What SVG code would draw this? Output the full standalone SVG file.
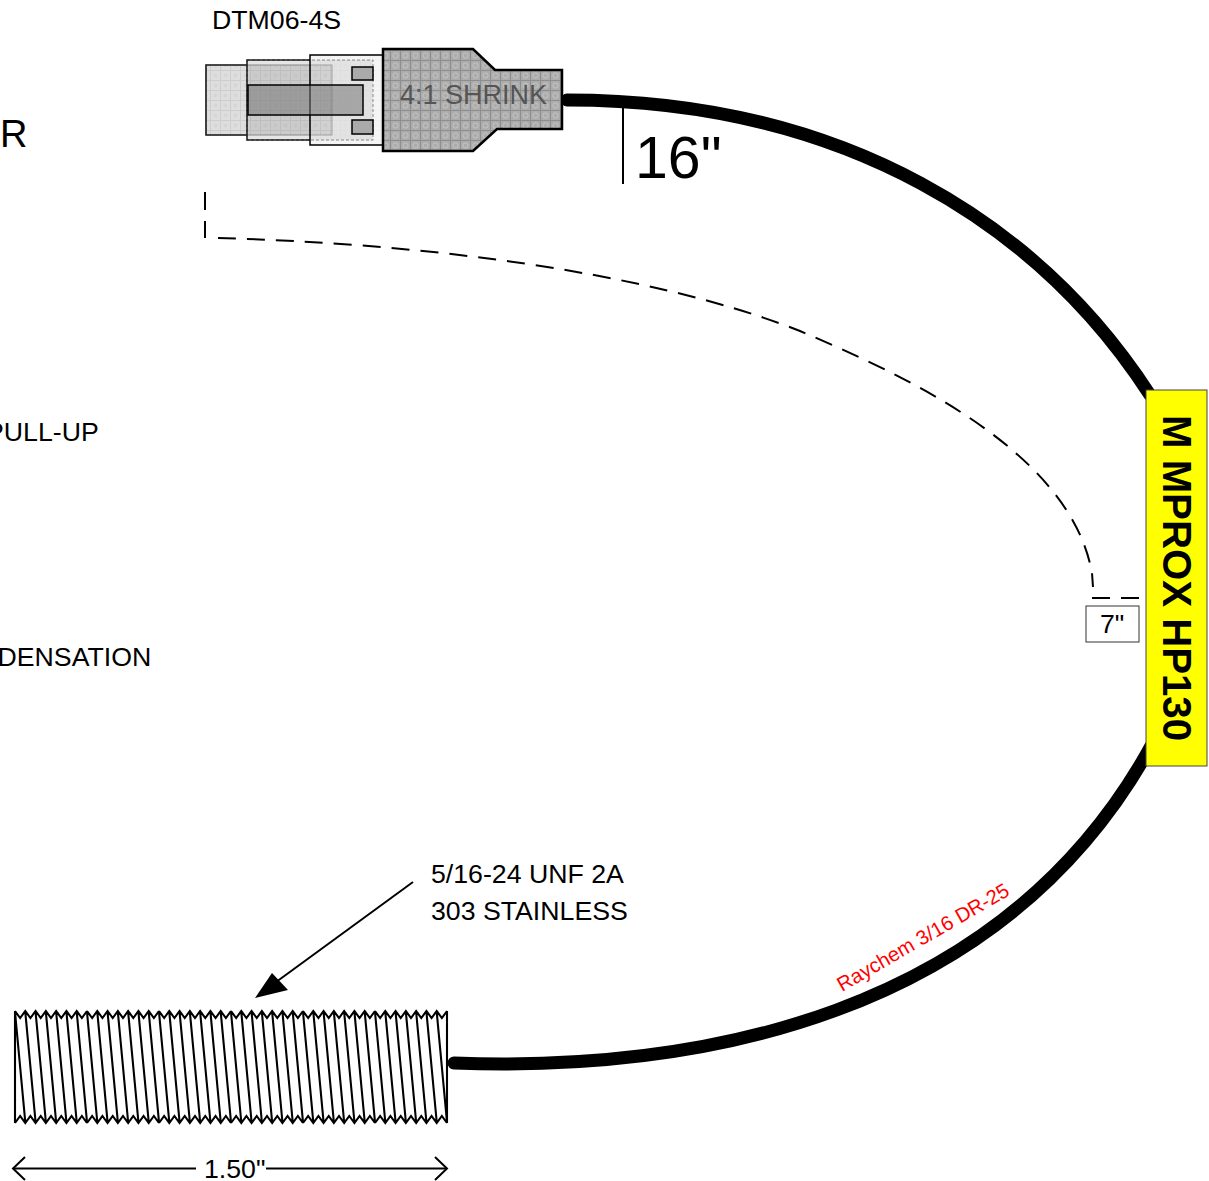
<svg xmlns="http://www.w3.org/2000/svg" width="1209" height="1181" viewBox="0 0 1209 1181">
<style>
text{font-family:"Liberation Sans",Arial,sans-serif;fill:#000}
.ln{fill:none;stroke:#000;stroke-width:2}
.cable{fill:none;stroke:#000;stroke-width:13;stroke-linecap:round}
.dash{fill:none;stroke:#000;stroke-width:2;stroke-dasharray:18 11}
.t{font-size:26.7px}
.edge{fill:none;stroke:#222;stroke-width:1.6}
.thr{fill:none;stroke:#000;stroke-width:2.1}
</style>
<defs>
<pattern id="lt" width="10" height="10" patternUnits="userSpaceOnUse"><rect width="10" height="10" fill="#dedede"/><path d="M0 .5H10M.5 0V10" stroke="#cdcdcd"/><circle cx="5.5" cy="5.5" r="2" fill="#d6d6d6"/></pattern>
<pattern id="dk" width="10" height="10" patternUnits="userSpaceOnUse"><rect width="10" height="10" fill="#acacac"/><path d="M0 .5H10M.5 0V10" stroke="#8e8e8e"/><circle cx="5.5" cy="5.5" r="2.6" fill="none" stroke="#c4c4c4"/></pattern>
<marker id="op" markerWidth="22" markerHeight="28" refX="20" refY="14" orient="auto-start-reverse" markerUnits="userSpaceOnUse"><path d="M8 2.500L20 14L8 25.500" fill="none" stroke="#000" stroke-width="2"/></marker>
<path id="th7" class="thr" d="M0 1011l5.143 7 5.143 -7 5.143 7 5.143 -7 5.143 7 5.143 -7 5.143 7 5.143 -7 5.143 7 5.143 -7 5.143 7 5.143 -7 5.143 7 5.143 -7M0 1123l5.143 -7 5.143 7 5.143 -7 5.143 7 5.143 -7 5.143 7 5.143 -7 5.143 7 5.143 -7 5.143 7 5.143 -7 5.143 7 5.143 -7 5.143 7M0 1012l10.286 110m0 -110l10.286 110m0 -110l10.286 110m0 -110l10.286 110m0 -110l10.286 110m0 -110l10.286 110m0 -110l10.286 110"/>
</defs>
<text class="t" x="212" y="29">DTM06-4S</text>
<text x="0" y="147" font-size="38">R</text>
<text class="t" x="-14" y="441">PULL-UP</text>
<text class="t" x="-2.500" y="666">DENSATION</text>
<g id="connectors">
<path class="cable" d="M567 100C845 100 1040 225 1150 395"/>
<path class="cable" d="M1151 746L1146 755C996 1016 700 1072 454 1063"/>
<path class="dash" d="M205 192V238"/>
<path class="dash" d="M218 238C405 243 640 268 800 331C901 374 1070 450 1092 573L1093 587"/>
<path class="dash" d="M1092 598H1139"/>
<path d="M623 108V184" class="ln"/>
<path d="M413 882L272 985" class="ln"/>
<path d="M255 998L272 973L288 990Z" fill="#000"/>
<path d="M13 1168.500H196M266 1168.500H447" class="ln" marker-start="url(#op)" marker-end="url(#op)"/>
</g>
<g id="connector-dtm">
<rect x="206" y="65" width="126" height="70" fill="url(#lt)" stroke="#888"/>
<path d="M247 65H206V135H247" class="edge"/>
<rect x="247" y="60" width="126" height="80" fill="#888" fill-opacity=".22" stroke="#666" stroke-dasharray="3 2"/>
<path d="M310 60H247V140H310" class="edge"/>
<rect x="310" y="55" width="73" height="90" fill="url(#lt)" fill-opacity=".3" stroke="#000" stroke-width="1.500"/>
<rect x="248" y="85" width="115" height="30" fill="#777" fill-opacity=".55" stroke="#000" stroke-width="1.500"/>
<rect x="352" y="67" width="21" height="13" fill="#aaa" stroke="#000" stroke-width="1.500"/>
<rect x="352" y="120" width="21" height="14" fill="#aaa" stroke="#000" stroke-width="1.500"/>
<path d="M383 49H473L495 70H562V129H497L473 151H383Z" fill="url(#dk)" stroke="#000" stroke-width="2.500"/>
<text x="400" y="104" font-size="27" style="fill:#555">4:1 SHRINK</text>
</g>
<text x="635" y="178" font-size="59">16"</text>
<g id="label-hp130">
<rect x="1146" y="390" width="61" height="376" fill="#ff0" stroke="#444"/>
<text transform="translate(1163 415) rotate(90)" font-size="40.200" font-weight="bold">M MPROX HP130</text>
</g>
<g id="dim-7">
<rect x="1086" y="606" width="53" height="36" fill="#fff" stroke="#333" stroke-width="1"/>
<text class="t" x="1100" y="633">7"</text>
</g>
<text transform="translate(842 992) rotate(-30)" font-size="20.300" style="fill:#f00">Raychem 3/16 DR-25</text>
<g id="thread">
<path class="thr" d="M15 1011V1123M447 1011V1123"/>
<use href="#th7" x="15"/>
<use href="#th7" x="87"/>
<use href="#th7" x="159"/>
<use href="#th7" x="231"/>
<use href="#th7" x="303"/>
<use href="#th7" x="375"/>
</g>
<text class="t" x="431" y="883">5/16-24 UNF 2A</text>
<text class="t" x="431" y="920">303 STAINLESS</text>
<text class="t" x="204" y="1178">1.50"</text>
</svg>
